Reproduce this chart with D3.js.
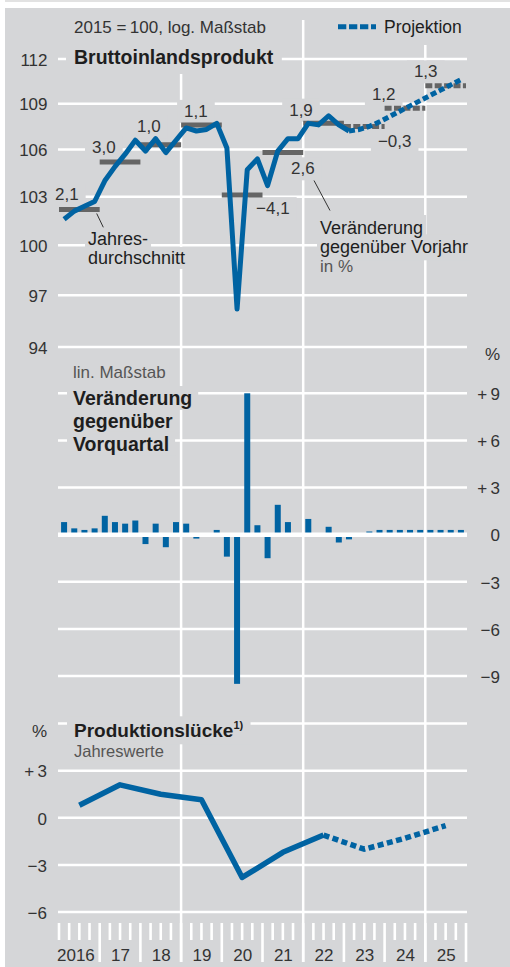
<!DOCTYPE html>
<html><head><meta charset="utf-8">
<script src="https://cdn.jsdelivr.net/npm/d3@7"></script>
<style>
html,body{margin:0;padding:0;background:#fff;}
svg{display:block;font-family:"Liberation Sans",Arial,sans-serif;}
</style></head><body>
<svg id="c" width="510" height="967"></svg>
<script>
// ---------------- DATA ----------------
const years = [2016,2017,2018,2019,2020,2021,2022,2023,2024,2025];
const yearLabels = ["2016","17","18","19","20","21","22","23","24","25"];
const quarterLabels = ["Q1","Q2","Q3","Q4"];
// real GDP, 2015 = 100, quarterly 2016Q1 .. 2025Q4
const gdpIndex = [101.6,102.1,102.4,102.7, 104.0,104.9,105.7,106.6, 105.9,106.7,105.8,106.6,
                  107.4,107.2,107.3,107.7, 106.1,96.2,104.7,105.4, 103.7,105.9,106.7,106.7,
                  107.7,107.6,108.2,107.6, 107.2,107.3,107.5,107.8, 108.15,108.5,108.85,109.2,
                  109.55,109.9,110.25,110.6];
const gdpLastActual = 28;            // 2023Q1
// change on previous quarter, %
const qoqChange = [0.8,0.4,0.3,0.4, 1.2,0.8,0.7,0.9, -0.6,0.7,-0.8,0.8, 0.7,-0.25,0.0,0.3,
                   -1.4,-9.5,9.0,0.6, -1.5,1.9,0.8,0.0, 1.0,0.0,0.5,-0.5, -0.3,0.1,0.2,0.3,
                   0.3,0.3,0.3,0.3, 0.3,0.3,0.3,0.3];
const qoqFirstProjection = 29;
// annual averages of GDP index and change on previous year
const annualAverage = [102.2,105.2,106.3,107.6,103.1,105.8,107.7,107.5,108.7,110.2];
const annualChangeLabels = ["2,1","3,0","1,0","1,1","\u22124,1","2,6","1,9","\u22120,3","1,2","1,3"];
const annualFirstProjection = 2023;
// output gap, % of potential, annual
const outputGap = [0.8,2.1,1.5,1.15,-3.8,-2.2,-1.1,-2.0,-1.3,-0.5];
const gapLastActual = 2022;
// axes
const topTicks = [94,97,100,103,106,109,112];
const midTicks = [-9,-6,-3,0,3,6,9];
const midTickLabels = ["\u22129","\u22126","\u22123","0","+\u20093","+\u20096","+\u20099"];
const botGridTicks = [-6,-3,0,3,6];
const botTickLabels = ["\u22126","\u22123","0","+\u20093"];

// ---------------- LAYOUT / STYLE ----------------
const BG = "#d5d6d8", BLUE = "#0063a2", GREY = "#656565", TXT = "#333", DARK = "#1e1e1e";
const gx0 = 58, gx1 = 467;
// label offsets (dx from year start, dy from bar) for annual change labels
const labelOffsets = [[-4,-9.3],[-7.7,-8.7],[-3.4,-12.6],[3,-8],[34.3,19],[28.6,21.7],[-14,-7.7],[34,20.6],[-12.7,-7.7],[-11.4,-8.3]];

const svg = d3.select("#c");
const x = d3.scaleLinear().domain([2016,2026]).range([59,466]);
const yTop = d3.scaleLog().domain([94,112]).range([347,59]);
const yMid = d3.scaleLinear().domain([-9,9]).range([676,393.3]);
const yBot = d3.scaleLinear().domain([-6,6]).range([912,723.6]);

const qTime = years.flatMap(y => quarterLabels.map((q,k) => y + (k+0.5)/4));

svg.append("rect").attr("x",5).attr("y",0).attr("width",505).attr("height",2).attr("fill","#e2e2e2");
svg.append("rect").attr("x",5).attr("y",8).attr("width",505).attr("height",959).attr("fill",BG);

const gGrid = svg.append("g");
const gKnock = svg.append("g");
const gData = svg.append("g");
const gTop = svg.append("g");
const gText = svg.append("g");

// --- horizontal grid
function hgrid(vals, scale, w){
  gGrid.selectAll(null).data(vals).join("line")
    .attr("x1",gx0).attr("x2",gx1).attr("y1",d=>scale(d)).attr("y2",d=>scale(d))
    .attr("stroke","#fff").attr("stroke-width",w||2.5);
}
hgrid(topTicks, yTop);
hgrid(midTicks.filter(d=>d!==0), yMid);
hgrid(botGridTicks, yBot);
// vertical grid every three years
gGrid.selectAll(null).data(years.filter(y => y>2016 && (y-2016)%3===0)).join("line")
  .attr("x1",d=>x(d)).attr("x2",d=>x(d)).attr("y1",20).attr("y2",962)
  .attr("stroke","#fff").attr("stroke-width",2.5);
// quarter ticks at bottom
const qBounds = d3.range(0,41).map(k => 2016 + k/4);
gGrid.selectAll(null).data(qBounds).join("line")
  .attr("x1",d=>x(d)).attr("x2",d=>x(d)).attr("y1",923)
  .attr("y2",(d,i)=> (i%4===0 && i>0) ? 962 : 940)
  .attr("stroke","#fff").attr("stroke-width",2.6);

// ---------------- axes labels ----------------
function styleAxis(g){ g.select(".domain").remove(); g.selectAll("line").remove();
  g.selectAll("text").attr("fill",TXT).style("font-size","17px").style("font-family","'Liberation Sans',Arial,sans-serif"); }
gText.append("g").attr("transform","translate(47.5,0)")
  .call(d3.axisLeft(yTop).tickValues(topTicks).tickSize(0).tickPadding(0).tickFormat(d3.format("d")))
  .call(styleAxis).call(g=>g.selectAll("text").attr("dy","0.37em"));
gText.append("g").attr("transform","translate(500,0)")
  .call(d3.axisLeft(yMid).tickValues(midTicks).tickSize(0).tickPadding(0).tickFormat((d,i)=>midTickLabels[i]))
  .call(styleAxis).call(g=>g.selectAll("text").attr("dy","0.37em"));
gText.append("g").attr("transform","translate(47,0)")
  .call(d3.axisLeft(yBot).tickValues(botGridTicks.slice(0,4)).tickSize(0).tickPadding(0).tickFormat((d,i)=>botTickLabels[i]))
  .call(styleAxis).call(g=>g.selectAll("text").attr("dy","0.37em"));
gText.append("g").attr("transform","translate(0,960.5)")
  .call(d3.axisBottom(x).tickValues(years.map(y=>y+0.5)).tickSize(0).tickPadding(0).tickFormat((d,i)=>yearLabels[i]))
  .call(styleAxis)
  .call(g=>g.selectAll("text").attr("y",0).attr("dy",0)
     .filter((d,i)=>i===0).attr("text-anchor","end").attr("x", x(2017)-5.4 - x(2016.5)));

function txt(t, xx, yy, size, opt){
  opt = opt||{};
  return gText.append("text").attr("x",xx).attr("y",yy).text(t)
    .attr("fill",opt.fill||TXT).style("font-size",size+"px")
    .style("font-weight",opt.bold?"bold":"normal")
    .attr("text-anchor",opt.anchor||"start");
}
function knock(nodes, px, py){
  const bbs = nodes.map(n => n.node().getBBox());
  const x0 = d3.min(bbs,b=>b.x), x1 = d3.max(bbs,b=>b.x+b.width);
  const y0 = d3.min(bbs,b=>b.y), y1 = d3.max(bbs,b=>b.y+b.height);
  gKnock.append("rect").attr("x",x0-px).attr("y",y0-py).attr("width",x1-x0+2*px).attr("height",y1-y0+2*py).attr("fill",BG);
}

// ---------------- top titles / legend ----------------
const t1 = txt("2015 =\u2009100, log. Maßstab", 74, 33, 17);
const t2 = txt("Bruttoinlandsprodukt", 74, 64, 19.5, {bold:true, fill:DARK});
knock([t1,t2], 8, 6);
const legLine = gText.append("line").attr("x1",338).attr("x2",376).attr("y1",26.7).attr("y2",26.7)
  .attr("stroke",BLUE).attr("stroke-width",5).attr("stroke-dasharray","8.3,2.7");
const legTxt = txt("Projektion", 384, 33, 17.5, {fill:DARK});
knock([legLine, legTxt], 8, 8);

// ---------------- top chart ----------------
gData.selectAll(null).data(years).join("line")
  .attr("x1",d=>x(d)).attr("x2",d=>x(d+1))
  .attr("y1",(d,i)=>yTop(annualAverage[i])).attr("y2",(d,i)=>yTop(annualAverage[i]))
  .attr("stroke",GREY).attr("stroke-width",5)
  .attr("stroke-dasharray",d=> d>=annualFirstProjection ? "7,2.4" : null);

const gdpPts = gdpIndex.map((v,i)=>[qTime[i],v]);
const lineTop = d3.line().x(d=>x(d[0])).y(d=>yTop(d[1]));
gData.append("path").datum(gdpPts.slice(0,gdpLastActual+1)).attr("d",lineTop)
  .attr("fill","none").attr("stroke",BLUE).attr("stroke-width",5).attr("stroke-linejoin","round");
gData.append("path").datum(gdpPts.slice(gdpLastActual)).attr("d",lineTop)
  .attr("fill","none").attr("stroke",BLUE).attr("stroke-width",5).attr("stroke-dasharray","6,3");

annualChangeLabels.forEach((s,i)=>{
  const o = labelOffsets[i];
  const t = txt(s, x(years[i])+o[0], yTop(annualAverage[i])+o[1], 17);
  knock([t], 7, 2);
});

// annotations
const a1 = txt("Jahres-", 88, 245, 18, {fill:DARK});
const a2 = txt("durchschnitt", 88, 264, 18, {fill:DARK});
knock([a1],3,1); knock([a2],3,1);
gText.append("line").attr("x1",96.7).attr("y1",213.5).attr("x2",103.3).attr("y2",227.3).attr("stroke",TXT).attr("stroke-width",1);
const b1 = txt("Veränderung", 320, 234, 18, {fill:DARK});
const b2 = txt("gegenüber Vorjahr", 320, 253.3, 18, {fill:DARK});
const b3 = txt("in %", 320, 271.7, 17, {fill:"#555"});
knock([b1],3,3); knock([b2],3,3); knock([b3],3,1);
gText.append("line").attr("x1",314).attr("y1",180.5).attr("x2",330).attr("y2",210.5).attr("stroke",TXT).attr("stroke-width",1);

// ---------------- middle chart ----------------
txt("%", 500, 360, 17, {anchor:"end"});
const m0 = txt("lin. Maßstab", 73, 378, 17, {fill:"#555"});
knock([m0],4,1);
["Veränderung","gegenüber","Vorquartal"].forEach((s,i)=>{
  const t = txt(s, 73, 405 + i*22.8, 19.5, {bold:true, fill:DARK});
  knock([t],6,1);
});
gData.selectAll(null).data(qoqChange).join("rect")
  .attr("x",(d,i)=>x(qTime[i])-3).attr("width",6)
  .attr("y",d=>yMid(Math.max(0,d))).attr("height",d=>Math.abs(yMid(d)-yMid(0)))
  .attr("fill",BLUE);
gTop.append("line").attr("x1",gx0).attr("x2",gx1).attr("y1",yMid(0)).attr("y2",yMid(0))
  .attr("stroke","#fff").attr("stroke-width",4.5);

// ---------------- bottom chart ----------------
txt("%", 47, 736.7, 17, {anchor:"end"});
const p1 = txt("Produktionslücke", 74, 737.3, 19, {bold:true, fill:DARK});
p1.append("tspan").text("1)").attr("dy",-8).style("font-size","11px");
knock([p1],7,3);
const p2 = txt("Jahreswerte", 74, 756.7, 16.5, {fill:"#555"});
knock([p2],4,1);
const gapPts = outputGap.map((v,i)=>[years[i]+0.5, v, years[i]]);
const lineBot = d3.line().x(d=>x(d[0])).y(d=>yBot(d[1]));
gData.append("path").datum(gapPts.filter(d=>d[2]<=gapLastActual)).attr("d",lineBot)
  .attr("fill","none").attr("stroke",BLUE).attr("stroke-width",5.5).attr("stroke-linejoin","round");
gData.append("path").datum(gapPts.filter(d=>d[2]>=gapLastActual)).attr("d",lineBot)
  .attr("fill","none").attr("stroke",BLUE).attr("stroke-width",5.5).attr("stroke-dasharray","6,3.5");
</script>
</body></html>
